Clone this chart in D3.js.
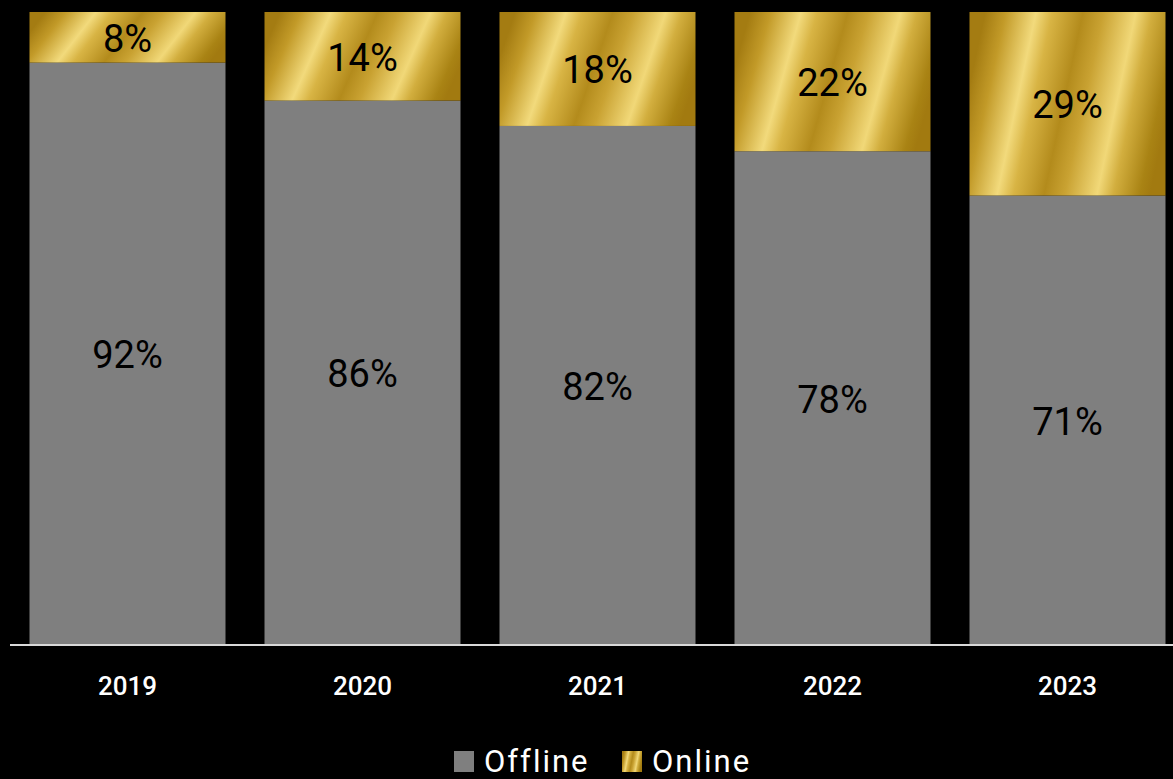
<!DOCTYPE html>
<html><head><meta charset="utf-8">
<script src="https://cdn.jsdelivr.net/npm/d3@7"></script>
<style>html,body{margin:0;padding:0;background:#000;}svg{display:block;}</style>
</head><body>
<script>
const years = ["2019","2020","2021","2022","2023"];
const offline = [92,86,82,78,71];
const online = [8,14,18,22,29];
const seriesNames = ["Offline","Online"];

const W = 1173, H = 779;
const svg = d3.select("body").append("svg").attr("width",W).attr("height",H).style("background","#000");
const defs = svg.append("defs");
function goldGrad(id){
  const g = defs.append("linearGradient").attr("id",id)
    .attr("x1",0).attr("y1",0.4).attr("x2",1).attr("y2",0.6);
  [[0,"#a47c12"],[0.1,"#c29a28"],[0.25,"#f2da7c"],[0.33,"#d8b444"],[0.48,"#b38b1c"],[0.58,"#c9a232"],[0.74,"#f1d878"],[0.82,"#d2ae3e"],[0.95,"#a98314"],[1,"#a27a10"]]
    .forEach(([o,c])=>g.append("stop").attr("offset",o).attr("stop-color",c));
}
goldGrad("gold");

const x = d3.scaleBand().domain(years).range([10,1185]).paddingInner(0.166).paddingOuter(0.083);
const y = d3.scaleLinear().domain([0,100]).range([645,12]);

const data = years.map((yr,i)=>({year:yr, Offline:offline[i], Online:online[i]}));
const stack = d3.stack().keys(seriesNames)(data);
const fills = {Offline:"#7f7f7f", Online:"url(#gold)"};

stack.forEach(s=>{
  const g = svg.append("g");
  g.selectAll("rect").data(s).join("rect")
    .attr("x",d=>x(d.data.year)).attr("width",x.bandwidth())
    .attr("y",d=>y(d[1])).attr("height",d=>y(d[0])-y(d[1]))
    .attr("fill",fills[s.key]);
  g.selectAll("text").data(s).join("text")
    .attr("x",d=>x(d.data.year)+x.bandwidth()/2)
    .attr("y",d=>(y(d[0])+y(d[1]))/2)
    .attr("dy","0.38em").attr("text-anchor","middle")
    .attr("font-family","Roboto").attr("font-weight",400).attr("font-size",38)
    .attr("fill","#000")
    .text(d=>(d[1]-d[0])+"%");
});

// axis
const axis = svg.append("g").attr("transform","translate(0,645)")
  .call(d3.axisBottom(x).tickSize(0).tickPadding(32));
axis.select(".domain").attr("stroke","#d9d9d9").attr("stroke-width",2).attr("d","M10,0H1173");
axis.selectAll("text").attr("fill","#fff").attr("font-family","Roboto").attr("font-weight",500).attr("font-size",26);

// legend
const leg = svg.append("g");
const legItems = [{k:"Offline",sx:454,tx:484},{k:"Online",sx:622,tx:652}];
legItems.forEach(it=>{
  leg.append("rect").attr("x",it.sx).attr("y",751).attr("width",20).attr("height",21).attr("fill",fills[it.k]);
  leg.append("text").attr("x",it.tx).attr("y",772).attr("fill","#fff")
    .attr("font-family","Roboto").attr("font-weight",400).attr("font-size",31)
    .attr("letter-spacing",2).text(it.k);
});
</script>
</body></html>
